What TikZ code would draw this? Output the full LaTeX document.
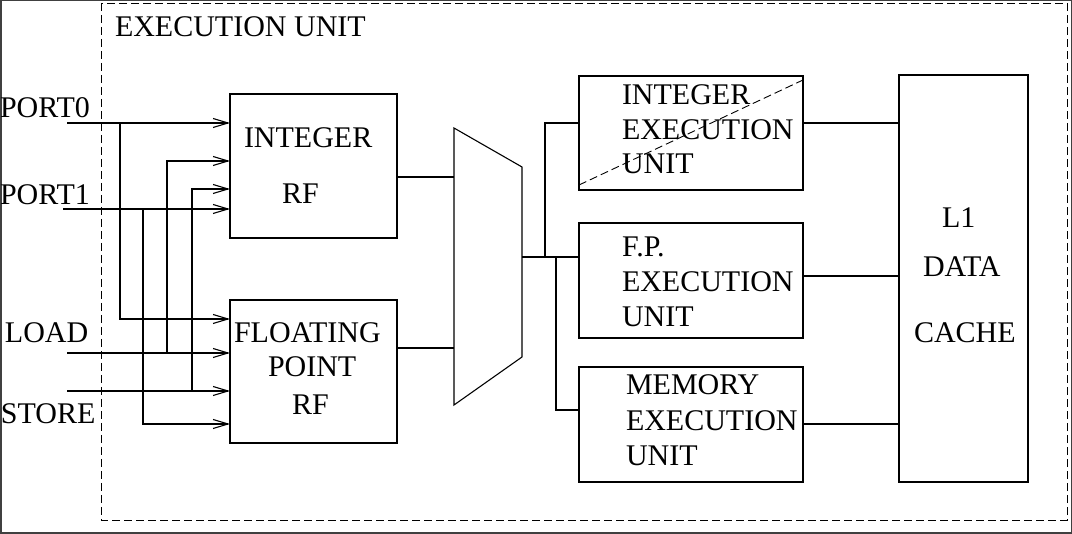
\documentclass[tikz,border=0pt]{standalone}
\usepackage{fontspec}
\setmainfont{Liberation Serif}
\usetikzlibrary{arrows.meta}
\begin{document}
\begin{tikzpicture}[x=1pt,y=-1pt,
  every node/.style={inner sep=0pt,outer sep=0pt},
  lbl/.style={anchor=base west,font=\fontsize{30}{34}\selectfont},
  box/.style={draw,line width=1.1pt,anchor=north west,rectangle},
  wire/.style={line width=1.1pt},
  arr/.style={wire,-{Straight Barb[length=15pt,width=9pt,line width=1.1pt]}},
  dsh/.style={line width=0.9pt,dash pattern=on 8pt off 4pt}]
\useasboundingbox (0,0) rectangle (1072,534);
\draw[line width=1.5pt,black!75] (0.75,0.75) rectangle (1071.25,533.25);
\draw[dsh] (101,3) rectangle (1067,520);
\node[lbl] (title) at (115,37) {EXECUTION UNIT};
% boxes
\node[box,minimum width=167pt,minimum height=144pt] (irf) at (230,94) {};
\node[box,minimum width=167pt,minimum height=143pt] (frf) at (230,300) {};
\node[box,minimum width=224pt,minimum height=114pt] (iex) at (579,76) {};
\node[box,minimum width=224pt,minimum height=115pt] (fex) at (579,223) {};
\node[box,minimum width=224pt,minimum height=115pt] (mex) at (579,367) {};
\node[box,minimum width=129pt,minimum height=407pt] (l1) at (899,75) {};
% mux
\draw[wire] (454,128) -- (522,167) -- (522,357) -- (454,405) -- cycle;
\coordinate (muxa) at (454,177);
\coordinate (muxb) at (454,348);
\coordinate (muxo) at (522,257);
% labels
\node[lbl] (t0) at (0,118) {PORT0};
\node[lbl] (t1) at (0,205) {PORT1};
\node[lbl] (t2) at (5,343) {LOAD};
\node[lbl] (t3) at (1,424) {STORE};
\node[lbl] (irf1) at (244,148) {INTEGER};
\node[lbl] (irf2) at (282,204) {RF};
\node[lbl] (frf1) at (234,343) {FLOATING};
\node[lbl] (frf2) at (268,377) {POINT};
\node[lbl] (frf3) at (292,415) {RF};
\node[lbl] (iex1) at (622,105) {INTEGER};
\node[lbl] (iex2) at (622,140) {EXECUTION};
\node[lbl] (iex3) at (622,174) {UNIT};
\node[lbl] (fex1) at (622,257) {F.P.};
\node[lbl] (fex2) at (622,292) {EXECUTION};
\node[lbl] (fex3) at (622,327) {UNIT};
\node[lbl] (mex1) at (626,395) {MEMORY};
\node[lbl] (mex2) at (626,431) {EXECUTION};
\node[lbl] (mex3) at (626,466) {UNIT};
\node[lbl] (l1a) at (942,228) {L1};
\node[lbl] (l1b) at (923,277) {DATA};
\node[lbl] (l1c) at (914,343) {CACHE};
% dashed diagonal
\draw[dsh] (579,185) -- (803,80);
% inputs
\coordinate (p0) at (67,123);
\coordinate (p1) at (63,209);
\coordinate (ld) at (67,353);
\coordinate (st) at (67,391);
\coordinate (j0) at (120,123);
\coordinate (j1) at (143,209);
\coordinate (j2) at (167,353);
\coordinate (j3) at (192,391);
\coordinate (i2) at (230,161);
\coordinate (i3) at (230,189);
\coordinate (f0) at (230,319);
\coordinate (f1) at (230,424);
\draw[arr] (p0) -- (p0 -| irf.west);
\draw[arr] (p1) -- (p1 -| irf.west);
\draw[arr] (ld) -- (ld -| frf.west);
\draw[arr] (st) -- (st -| frf.west);
\draw[arr] (j0) |- (f0);
\draw[arr] (j1) |- (f1);
\draw[arr] (j2) |- (i2);
\draw[arr] (j3) |- (i3);
% RF to mux
\draw[wire] (irf.east |- muxa) -- (muxa);
\draw[wire] (frf.east |- muxb) -- (muxb);
% mux to exec
\coordinate (ja) at (545,257);
\coordinate (jb) at (556,257);
\coordinate (ei) at (579,123);
\coordinate (em) at (579,410);
\draw[wire] (muxo) -- (muxo -| fex.west);
\draw[wire] (ja) |- (ei);
\draw[wire] (jb) |- (em);
% exec to cache
\coordinate (c1) at (803,123);
\coordinate (c2) at (803,276);
\coordinate (c3) at (803,424);
\draw[wire] (c1) -- (c1 -| l1.west);
\draw[wire] (c2) -- (c2 -| l1.west);
\draw[wire] (c3) -- (c3 -| l1.west);
\end{tikzpicture}
\end{document}
